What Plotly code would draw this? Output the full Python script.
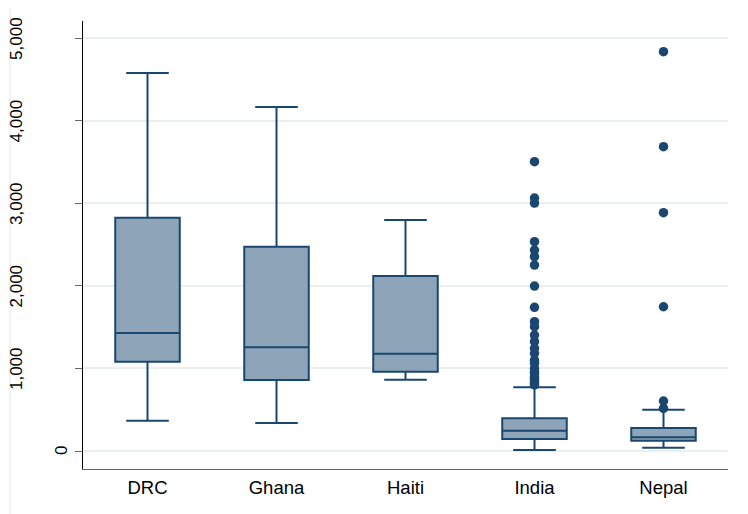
import plotly.graph_objects as go

categories = ["DRC", "Ghana", "Haiti", "India", "Nepal"]
q1_vals = [1082, 860, 961, 145, 125]
median_vals = [1430, 1256, 1179, 246, 166]
q3_vals = [2827, 2475, 2120, 396, 278]
lower_whisker = [367, 339, 864, 12, 40]
upper_whisker = [4580, 4168, 2799, 771, 500]

india_outliers = [3505, 3065, 3004, 2536, 2435, 2354, 2253, 1999, 1741, 1567, 1506,
                  1405, 1324, 1244, 1183, 1100, 1062, 1002, 960, 941, 900, 881, 850,
                  820, 800]
nepal_outliers = [4838, 3687, 2887, 1748, 606, 517]

ytick_vals = [0, 1000, 2000, 3000, 4000, 5000]
ytick_text = ["0", "1,000", "2,000", "3,000", "4,000", "5,000"]

NAVY = "#1a476f"
FILL = "#8ea4b9"
GRID = "#eaf0f2"
FONT = "Liberation Sans, Arial, sans-serif"

fig = go.Figure()
fig.add_trace(go.Box(
    x=categories,
    q1=q1_vals, median=median_vals, q3=q3_vals,
    lowerfence=lower_whisker, upperfence=upper_whisker,
    boxpoints=False,
    fillcolor=FILL,
    line=dict(color=NAVY, width=2),
    width=0.5,
    whiskerwidth=0.66,
    showlegend=False,
))

out_x = ["India"] * len(india_outliers) + ["Nepal"] * len(nepal_outliers)
out_y = india_outliers + nepal_outliers
fig.add_trace(go.Scatter(
    x=out_x, y=out_y, mode="markers",
    marker=dict(color=NAVY, size=9.5, line=dict(width=0)),
    showlegend=False,
))

# Rotated y tick labels placed like the original
label_x = [-0.034 if t == "0" else -0.103 for t in ytick_text]
for v, t, lx in zip(ytick_vals, ytick_text, label_x):
    fig.add_annotation(
        x=lx, xref="paper", y=v, yref="y", text=t, showarrow=False,
        textangle=-90, xanchor="center", yanchor="middle",
        font=dict(family=FONT, size=17, color="#000000"),
    )

# light outer frame of the graph region
fig.add_shape(type="rect", xref="paper", yref="paper",
              x0=-0.1132, x1=1.0279, y0=-0.2, y1=1.0402,
              line=dict(color="#e6edf1", width=1.2), fillcolor="rgba(0,0,0,0)",
              layer="below")

fig.update_layout(
    width=748, height=514,
    margin=dict(l=75, r=28, t=13, b=53),
    paper_bgcolor="white", plot_bgcolor="white",
    font=dict(family=FONT, color="#000000"),
    showlegend=False,
)
fig.update_xaxes(
    type="category", range=[-0.5, 4.5],
    showline=True, linecolor="#666666", linewidth=1.2,
    showgrid=False, ticks="",
    tickfont=dict(family=FONT, size=18.5, color="#000000"),
    ticklabelstandoff=2,
)
fig.update_yaxes(
    range=[-218, 5210],
    tickvals=ytick_vals, showticklabels=False,
    ticks="outside", ticklen=7, tickcolor="#666666", tickwidth=1.2,
    showline=True, linecolor="#000000", linewidth=1.2,
    showgrid=True, gridcolor=GRID, gridwidth=1.5,
    zeroline=False,
)

fig.write_html("out.html")
